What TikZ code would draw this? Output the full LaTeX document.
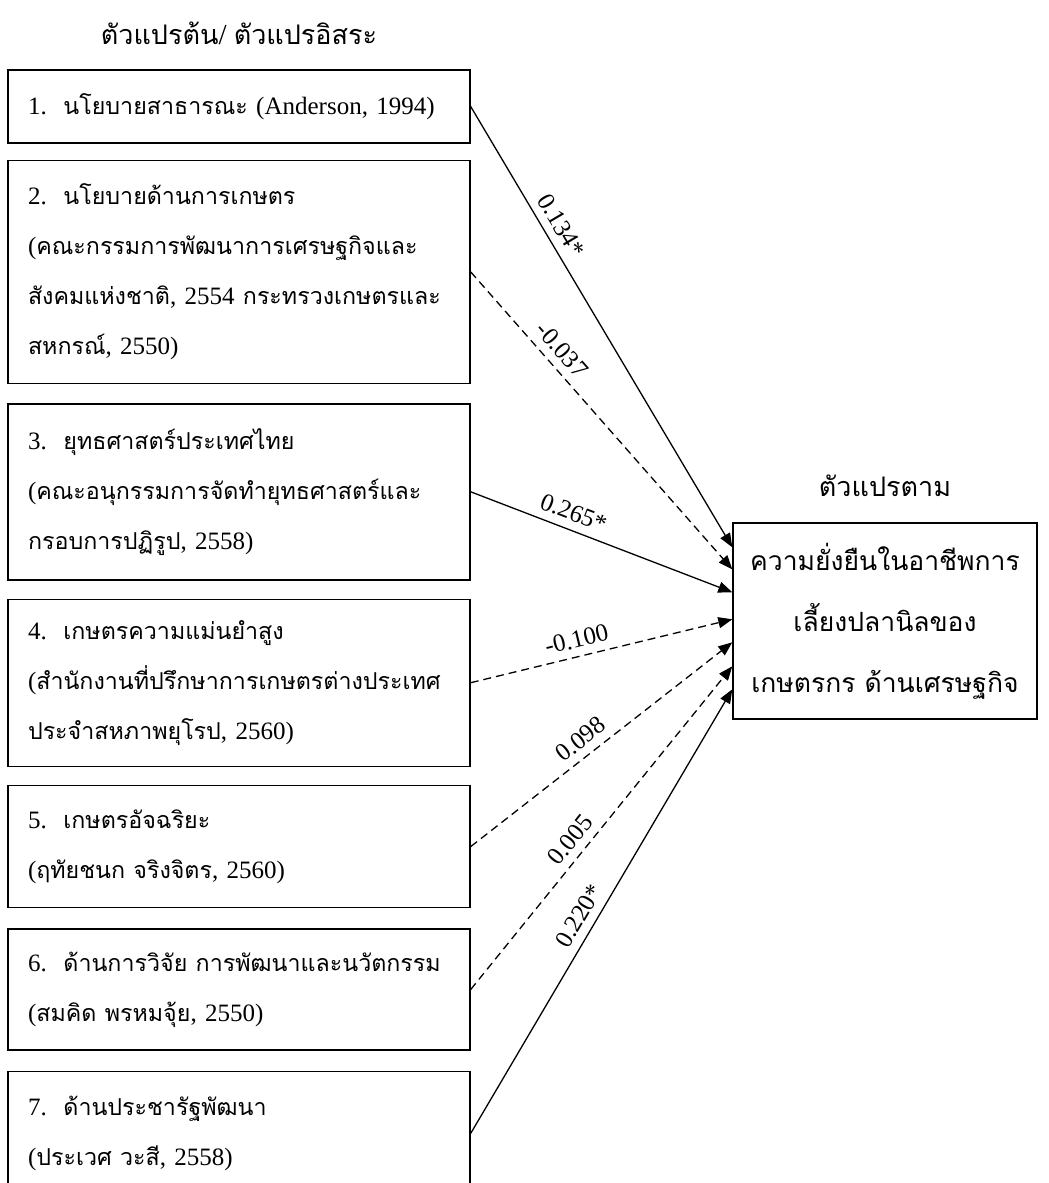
\documentclass[tikz,border=0pt]{standalone}
\usepackage{fontspec}
\setmainfont{Liberation Serif}
\newfontfamily\thaifont[Script=Thai,Scale=0.93]{Loma}
\newcommand{\tx}[1]{{\thaifont #1}}
\usetikzlibrary{arrows.meta,positioning,calc}

\begin{document}
\begin{tikzpicture}[x=1pt,y=1pt,
  node distance=19pt,
  box/.style={draw,line width=1.4pt,text width=422pt,inner xsep=20pt,inner ysep=0pt,
    align=left,font=\fontsize{25}{50}\selectfont},
  res/.style={draw,line width=1.4pt,minimum width=304pt,minimum height=196pt,
    align=center,font=\fontsize{28.5}{61}\selectfont},
  ttl/.style={font=\fontsize{29}{32}\selectfont,inner sep=0pt},
  arr/.style={-{Triangle[length=14pt,width=11pt]},line width=1.3pt},
  dsh/.style={arr,dash pattern=on 8pt off 5pt},
  lbl/.style={font=\fontsize{25}{27}\selectfont,sloped,above,inner sep=8pt}]
  \useasboundingbox (0,0) rectangle (1049,-1183);
  % independent variables
  \node[box,minimum height=73pt](v1) at (239,-106.5){1.\ \ \tx{นโยบายสาธารณะ} (Anderson, 1994)};
  \node[box,minimum height=223pt,below=16pt of v1](v2){2.\ \ \tx{นโยบายด้านการเกษตร}\\
    (\tx{คณะกรรมการพัฒนาการเศรษฐกิจและ}\\
    \tx{สังคมแห่งชาติ}, 2554 \tx{กระทรวงเกษตรและ}\\
    \tx{สหกรณ์}, 2550)};
  \node[box,minimum height=176pt,below=of v2](v3){3.\ \ \tx{ยุทธศาสตร์ประเทศไทย}\\
    (\tx{คณะอนุกรรมการจัดทำยุทธศาสตร์และ}\\
    \tx{กรอบการปฏิรูป}, 2558)};
  \node[box,minimum height=167pt,below=18pt of v3](v4){4.\ \ \tx{เกษตรความแม่นยำสูง}\\
    (\tx{สำนักงานที่ปรึกษาการเกษตรต่างประเทศ}\\
    \tx{ประจำสหภาพยุโรป}, 2560)};
  \node[box,minimum height=122pt,below=18pt of v4](v5){5.\ \ \tx{เกษตรอัจฉริยะ}\\
    (\tx{ฤทัยชนก จริงจิตร}, 2560)};
  \node[box,minimum height=121pt,below=20pt of v5](v6){6.\ \ \tx{ด้านการวิจัย การพัฒนาและนวัตกรรม}\\
    (\tx{สมคิด พรหมจุ้ย}, 2550)};
  \node[box,minimum height=124pt,below=20pt of v6](v7){7.\ \ \tx{ด้านประชารัฐพัฒนา}\\
    (\tx{ประเวศ วะสี}, 2558)};
  \node[ttl,above=24pt of v1](tin){\tx{ตัวแปรต้น}/ \tx{ตัวแปรอิสระ}};
  % dependent variable
  \node[res](dep) at (885,-621){\tx{ความยั่งยืนในอาชีพการ}\\\tx{เลี้ยงปลานิลของ}\\\tx{เกษตรกร ด้านเศรษฐกิจ}};
  \node[ttl,above=25pt of dep](tdep){\tx{ตัวแปรตาม}};
  \coordinate (e1) at ($(dep.north west)+(0,-25)$);
  \coordinate (e2) at ($(dep.north west)+(0,-47)$);
  \coordinate (e3) at ($(dep.north west)+(0,-70)$);
  \coordinate (e4) at ($(dep.north west)+(0,-97)$);
  \coordinate (e5) at ($(dep.north west)+(0,-120)$);
  \coordinate (e6) at ($(dep.north west)+(0,-144)$);
  \coordinate (e7) at ($(dep.north west)+(0,-167)$);
  \draw[arr](v1.east)--node[lbl,pos=0.29]{0.134*}(e1);
  \draw[dsh](v2.east)--node[lbl,pos=0.3]{-0.037}(e2);
  \draw[arr](v3.east)--node[lbl,pos=0.37]{0.265*}(e3);
  \draw[dsh](v4.east)--node[lbl,pos=0.42]{-0.100}(e4);
  \draw[dsh](v5.east)--node[lbl,pos=0.46]{0.098}(e5);
  \draw[dsh](v6.east)--node[lbl,pos=0.43]{0.005}(e6);
  \draw[arr](v7.east)--node[lbl,pos=0.47]{0.220*}(e7);
\end{tikzpicture}
\end{document}
